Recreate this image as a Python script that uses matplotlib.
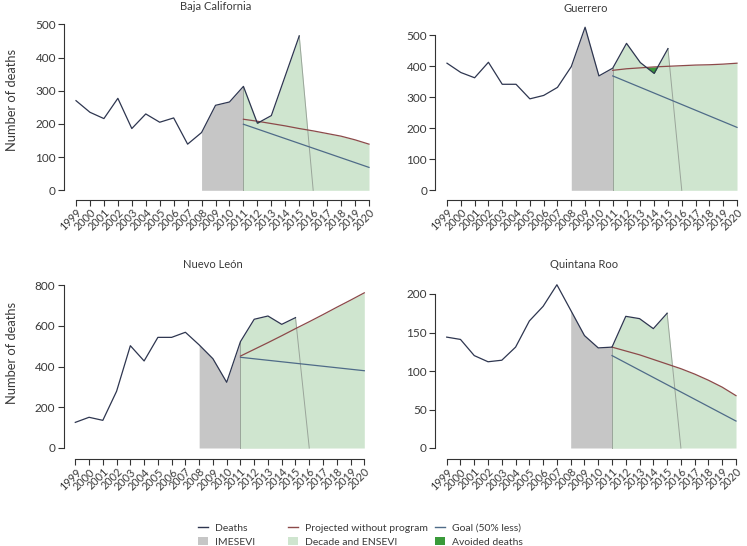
import numpy as np
import matplotlib.pyplot as plt
from matplotlib.lines import Line2D
from matplotlib.patches import Patch

plt.rcParams['font.family'] = ['Lato', 'DejaVu Sans']

years = np.arange(1999, 2016)
proj_years = np.arange(2011, 2021)

states = ["Baja California", "Guerrero", "Nuevo León", "Quintana Roo"]

deaths_bc = [270, 235, 216, 277, 186, 230, 205, 218, 139, 174, 256, 266, 313, 202, 225, 345, 465]
deaths_gro = [410, 380, 363, 413, 342, 342, 295, 306, 332, 399, 526, 369, 394, 474, 412, 377, 457]
deaths_nl = [126, 151, 136, 279, 503, 428, 544, 544, 569, 507, 439, 323, 523, 633, 649, 608, 641]
deaths_qr = [144, 141, 120, 112, 114, 131, 165, 184, 212, 179, 146, 130, 131, 171, 168, 155, 175]

proj_bc = [214, 208, 201, 194, 186, 179, 171, 163, 152, 139]
proj_gro = [387, 392, 395, 398, 400, 402, 404, 405, 407, 410]
proj_nl = [452, 485, 518, 552, 587, 621, 656, 692, 727, 763]
proj_qr = [131, 126, 121, 115, 109, 103, 96, 88, 79, 68]

goal_years = [2011, 2020]
goal_bc = [199, 69]
goal_gro = [369, 203]
goal_nl = [446, 380]
goal_qr = [120, 35]

yticks_bc = [0, 100, 200, 300, 400, 500]
yticks_gro = [0, 100, 200, 300, 400, 500]
yticks_nl = [0, 200, 400, 600, 800]
yticks_qr = [0, 50, 100, 150, 200]

c_deaths = '#2e3650'
c_proj = '#8c4a4a'
c_goal = '#4f6b88'
c_gray = '#c6c6c6'
c_green = '#cfe5cf'
c_avoid = '#3a9a3a'
c_edge = '#9aa59a'
c_text = '#3a3a3a'

W, H = 747, 546
fig = plt.figure(figsize=(W / 100, H / 100), dpi=100)

# pixel boxes: (x of 1999, x of 2020, y of 0, y of top tick, bottom axis y, top px)
boxes = [
    (76.0, 369.0, 190.3, 24.3, 200.0, 14),
    (447.0, 737.0, 190.3, 35.3, 200.0, 14),
    (75.3, 364.3, 448.0, 285.3, 459.3, 272),
    (446.7, 736.0, 448.0, 294.0, 459.3, 272),
]
title_pos = [(216, 7), (586, 8), (213, 264), (584, 264)]

data = [
    (deaths_bc, proj_bc, goal_bc, yticks_bc),
    (deaths_gro, proj_gro, goal_gro, yticks_gro),
    (deaths_nl, proj_nl, goal_nl, yticks_nl),
    (deaths_qr, proj_qr, goal_qr, yticks_qr),
]

for i, (d, p, g, yt) in enumerate(data):
    x99, x20, y0, ytop, ybot, ptop = boxes[i]
    ppy = (x20 - x99) / 21.0
    xl = 1999 - 0.84
    xr = 2020 + 0.84
    left_px = x99 - 0.84 * ppy
    right_px = x20 + 0.84 * ppy
    ppu = (y0 - ytop) / yt[-1]
    ylo = -(ybot - y0) / ppu
    yhi = (y0 - ptop) / ppu
    ax = fig.add_axes([left_px / W, 1 - ybot / H, (right_px - left_px) / W, (ybot - ptop) / H])
    ax.set_xlim(xl, xr)
    ax.set_ylim(ylo, yhi)

    d = np.array(d, dtype=float)
    p = np.array(p, dtype=float)

    # IMESEVI 2008-2011
    m = (years >= 2008) & (years <= 2011)
    ax.fill_between(years[m], 0, d[m], color=c_gray, lw=0)
    # Decade and ENSEVI
    ax.fill_between(proj_years, 0, p, color=c_green, lw=0)
    m2 = years >= 2011
    px_ = np.append(years[m2], 2016)
    py_ = np.append(d[m2], 0)
    ax.fill_between(px_, 0, py_, color=c_green, lw=0)
    ax.plot([2015, 2016], [d[-1], 0], color=c_edge, lw=0.7)
    ax.plot([2011, 2011], [0, d[years == 2011][0]], color=c_edge, lw=0.7)
    # avoided deaths
    dd = d[m2]
    pp = p[:len(dd)]
    ax.fill_between(years[m2], dd, pp, where=dd < pp, interpolate=True, color=c_avoid, lw=0)

    ax.plot(proj_years, p, color=c_proj, lw=0.9)
    ax.plot(goal_years, g, color=c_goal, lw=0.9)
    ax.plot(years, d, color=c_deaths, lw=0.9)

    for s in ['top', 'right']:
        ax.spines[s].set_visible(False)
    ax.spines['left'].set_bounds(yt[0], yt[-1])
    ax.spines['bottom'].set_bounds(1999, 2020)
    for s in ['left', 'bottom']:
        ax.spines[s].set_linewidth(0.8)
        ax.spines[s].set_color('#333333')
    ax.set_yticks(yt)
    ax.set_xticks(np.arange(1999, 2021))
    ax.set_xticklabels([str(y) for y in range(1999, 2021)], rotation=45,
                       ha='right', rotation_mode='anchor', fontsize=7.8)
    ax.tick_params(axis='y', labelsize=8.5, length=4, width=0.8, color='#333333', labelcolor=c_text, pad=2)
    ax.tick_params(axis='x', length=4, width=0.8, color='#333333', labelcolor=c_text, pad=1)

    tx, ty = title_pos[i]
    fig.text(tx / W, 1 - ty / H, states[i], ha='center', va='center', fontsize=8, color=c_text)

fig.text(12 / W, 1 - 100 / H, "Number of deaths", rotation=90, ha='center', va='center', fontsize=9.3, color=c_text)
fig.text(12 / W, 1 - 353 / H, "Number of deaths", rotation=90, ha='center', va='center', fontsize=9.3, color=c_text)

h_deaths = Line2D([], [], color=c_deaths, lw=1)
h_proj = Line2D([], [], color=c_proj, lw=1)
h_goal = Line2D([], [], color=c_goal, lw=1)
h_gray = Patch(facecolor=c_gray, edgecolor='none')
h_green = Patch(facecolor=c_green, edgecolor='none')
h_avoid = Patch(facecolor=c_avoid, edgecolor='none')

cols = [
    ([h_deaths, h_gray], ["Deaths", "IMESEVI"], 198),
    ([h_proj, h_green], ["Projected without program", "Decade and ENSEVI"], 288),
    ([h_goal, h_avoid], ["Goal (50% less)", "Avoided deaths"], 435),
]
for hs, labs, x in cols:
    fig.legend(hs, labs, loc='upper left', bbox_to_anchor=(x / W, 1 - 523 / H),
               frameon=False, fontsize=7.5, handlelength=1.0, handleheight=0.8,
               handletextpad=0.6, labelspacing=0.45, borderpad=0, borderaxespad=0,
               labelcolor=c_text)

fig.savefig("out.png", dpi=100)
